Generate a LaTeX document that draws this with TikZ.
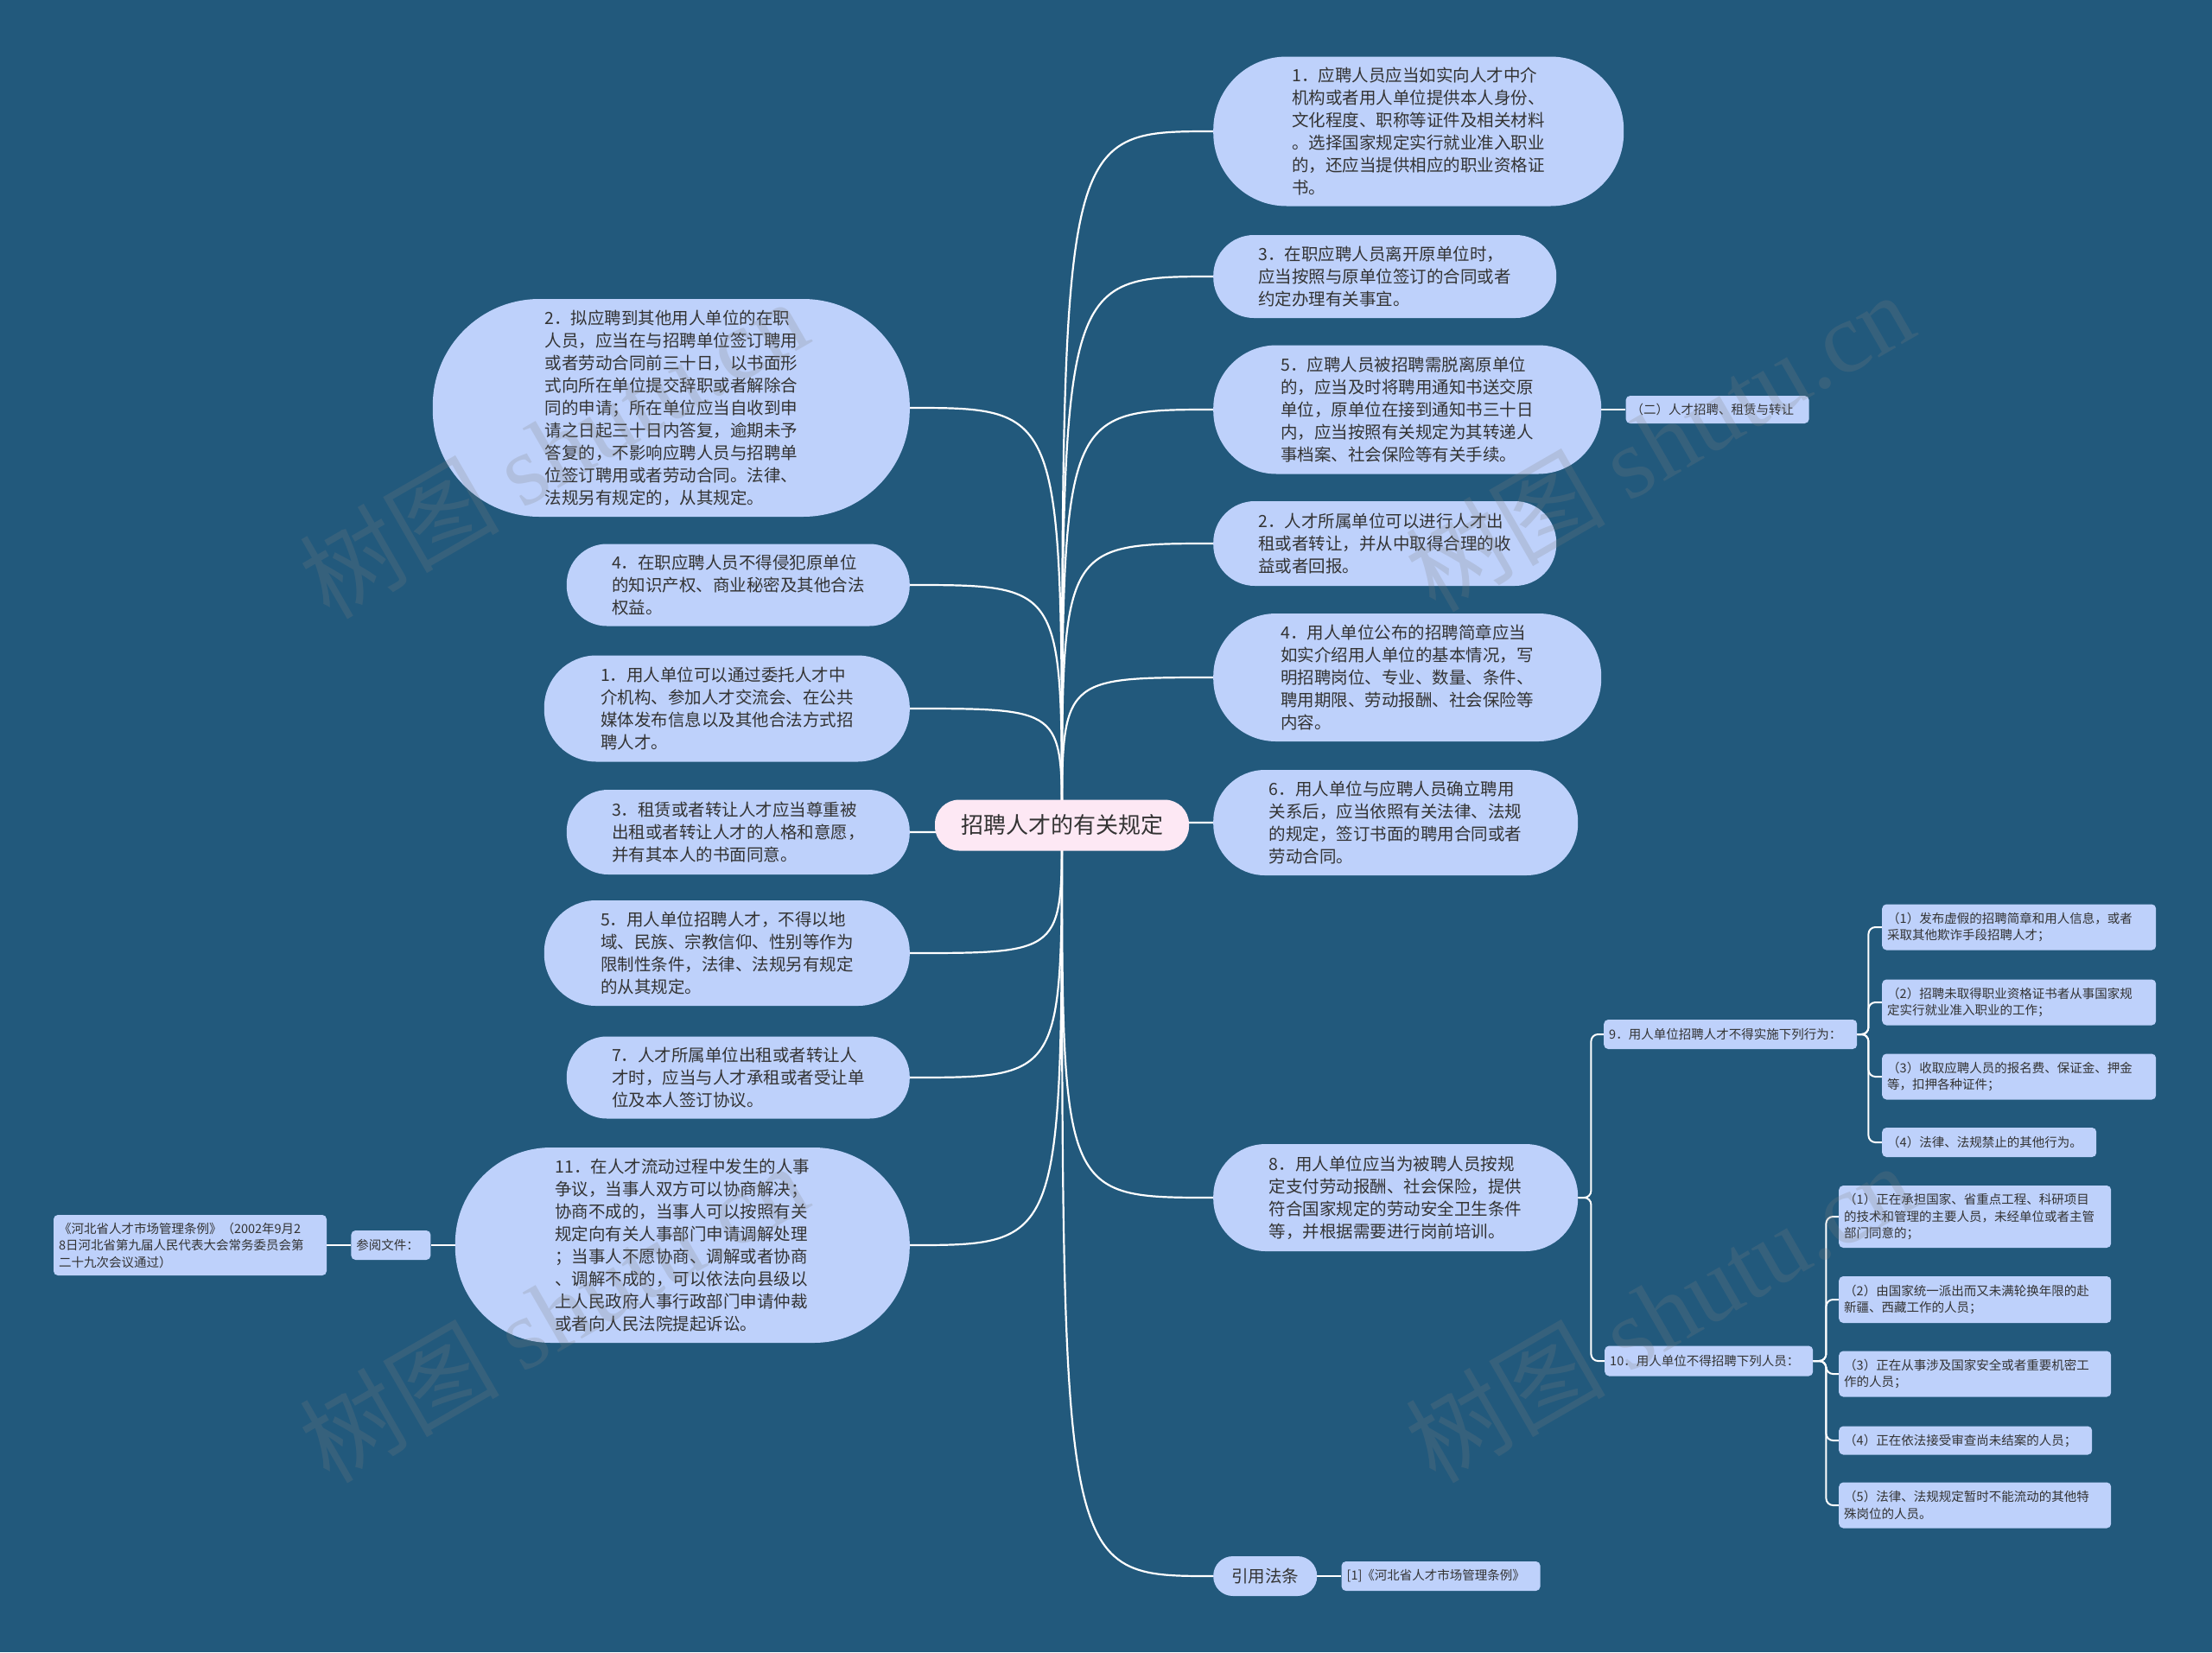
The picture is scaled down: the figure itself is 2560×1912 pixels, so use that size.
\documentclass[tikz,border=0pt]{standalone}
\usepackage{fontspec}
\setmainfont{Noto Sans CJK SC}
\newfontfamily\wmserif{Liberation Serif}
\usepackage{tikz}
\usetikzlibrary{positioning}

\definecolor{bgblue}{HTML}{22597C}
\definecolor{nodefill}{HTML}{BED1FB}
\definecolor{rootfill}{HTML}{FDE8F4}
\definecolor{txt}{HTML}{333333}

\pgfdeclarelayer{background}
\pgfdeclarelayer{edges}
\pgfsetlayers{background,edges,main}

\newcommand\rootfont{\fontsize{26}{30}\selectfont}
\newcommand\nodefont{\fontsize{19.5}{26}\selectfont}
\newcommand\leaffont{\fontsize{14.5}{19.5}\selectfont}

\begin{document}
\begin{tikzpicture}[
    x=1pt, y=-1pt,
    every node/.style={text=txt, inner sep=0pt},
    root/.style={fill=rootfill, font=\rootfont, minimum width=294pt, minimum height=59pt, rounded corners=28pt},
    pill/.style 2 args={fill=nodefill, font=\nodefont, align=left, minimum width=#1pt, minimum height=#2pt, rounded corners=0.49*#2pt},
    leaf/.style 2 args={fill=nodefill, font=\leaffont, align=left, text width=#1pt, minimum height=#2pt, inner xsep=6pt, rounded corners=5pt},
    link/.style={draw=white, line width=2.2pt},
    sublink/.style={draw=white, line width=2pt, rounded corners=8pt},
    wmark/.style={text=gray, opacity=0.22, rotate=30, font=\fontsize{116}{116}\selectfont},
    node distance=28pt
]
\useasboundingbox (0,0) rectangle (2560,1912);

\node[root] (root) at (1229,955) {招聘人才的有关规定};

% right side
\node[pill={475}{173}, anchor=west] (r1) at (1404,152) {1．应聘人员应当如实向人才中介\\机构或者用人单位提供本人身份、\\文化程度、职称等证件及相关材料\\。选择国家规定实行就业准入职业\\的，还应当提供相应的职业资格证\\书。};
\node[pill={397}{96}, anchor=west] (r3) at (1404,320) {3．在职应聘人员离开原单位时，\\应当按照与原单位签订的合同或者\\约定办理有关事宜。};
\node[pill={449}{149}, anchor=west] (r5) at (1404,474) {5．应聘人员被招聘需脱离原单位\\的，应当及时将聘用通知书送交原\\单位，原单位在接到通知书三十日\\内，应当按照有关规定为其转递人\\事档案、社会保险等有关手续。};
\node[pill={397}{98}, anchor=west] (r2) at (1404,629) {2．人才所属单位可以进行人才出\\租或者转让，并从中取得合理的收\\益或者回报。};
\node[pill={449}{148}, anchor=west] (r4) at (1404,784) {4．用人单位公布的招聘简章应当\\如实介绍用人单位的基本情况，写\\明招聘岗位、专业、数量、条件、\\聘用期限、劳动报酬、社会保险等\\内容。};
\node[pill={422}{122}, anchor=west] (r6) at (1404,952) {6．用人单位与应聘人员确立聘用\\关系后，应当依照有关法律、法规\\的规定，签订书面的聘用合同或者\\劳动合同。};
\node[pill={422}{124}, anchor=west] (r8) at (1404,1386) {8．用人单位应当为被聘人员按规\\定支付劳动报酬、社会保险，提供\\符合国家规定的劳动安全卫生条件\\等，并根据需要进行岗前培训。};
\node[pill={120}{46}, anchor=west] (yy) at (1404,1824) {引用法条};

\node[leaf={200}{32}, right=of r5] (er) {（二）人才招聘、租赁与转让};
\node[leaf={218}{34}, right=of yy] (ref1) {[1]《河北省人才市场管理条例》};

\node[leaf={281}{34}, anchor=west] (n9) at (1856,1197) {9．用人单位招聘人才不得实施下列行为：};
\node[leaf={305}{53}, anchor=west] (a1) at (2178,1073) {（1）发布虚假的招聘简章和用人信息，或者\\采取其他欺诈手段招聘人才；};
\node[leaf={305}{53}, anchor=west] (a2) at (2178,1160) {（2）招聘未取得职业资格证书者从事国家规\\定实行就业准入职业的工作；};
\node[leaf={305}{53}, anchor=west] (a3) at (2178,1246) {（3）收取应聘人员的报名费、保证金、押金\\等，扣押各种证件；};
\node[leaf={236}{34}, anchor=west] (a4) at (2178,1322) {（4）法律、法规禁止的其他行为。};

\node[leaf={229}{35}, anchor=west] (n10) at (1857,1575) {10．用人单位不得招聘下列人员：};
\node[leaf={303}{72}, anchor=west] (b1) at (2128,1408) {（1）正在承担国家、省重点工程、科研项目\\的技术和管理的主要人员，未经单位或者主管\\部门同意的；};
\node[leaf={303}{54}, anchor=west] (b2) at (2128,1504) {（2）由国家统一派出而又未满轮换年限的赴\\新疆、西藏工作的人员；};
\node[leaf={303}{53}, anchor=west] (b3) at (2128,1590) {（3）正在从事涉及国家安全或者重要机密工\\作的人员；};
\node[leaf={281}{33}, anchor=west] (b4) at (2128,1667) {（4）正在依法接受审查尚未结案的人员；};
\node[leaf={303}{53}, anchor=west] (b5) at (2128,1742) {（5）法律、法规规定暂时不能流动的其他特\\殊岗位的人员。};

% left side
\node[pill={552}{252}, anchor=east] (l2) at (1053,472) {2．拟应聘到其他用人单位的在职\\人员，应当在与招聘单位签订聘用\\或者劳动合同前三十日，以书面形\\式向所在单位提交辞职或者解除合\\同的申请；所在单位应当自收到申\\请之日起三十日内答复，逾期未予\\答复的，不影响应聘人员与招聘单\\位签订聘用或者劳动合同。法律、\\法规另有规定的，从其规定。};
\node[pill={397}{95}, anchor=east] (l4) at (1053,677) {4．在职应聘人员不得侵犯原单位\\的知识产权、商业秘密及其他合法\\权益。};
\node[pill={423}{123}, anchor=east] (l1) at (1053,820) {1．用人单位可以通过委托人才中\\介机构、参加人才交流会、在公共\\媒体发布信息以及其他合法方式招\\聘人才。};
\node[pill={397}{98}, anchor=east] (l3) at (1053,963) {3．租赁或者转让人才应当尊重被\\出租或者转让人才的人格和意愿，\\并有其本人的书面同意。};
\node[pill={423}{122}, anchor=east] (l5) at (1053,1103) {5．用人单位招聘人才，不得以地\\域、民族、宗教信仰、性别等作为\\限制性条件，法律、法规另有规定\\的从其规定。};
\node[pill={397}{95}, anchor=east] (l7) at (1053,1247) {7．人才所属单位出租或者转让人\\才时，应当与人才承租或者受让单\\位及本人签订协议。};
\node[pill={526}{226}, anchor=east] (l11) at (1053,1441) {11．在人才流动过程中发生的人事\\争议，当事人双方可以协商解决；\\协商不成的，当事人可以按照有关\\规定向有关人事部门申请调解处理\\；当事人不愿协商、调解或者协商\\、调解不成的，可以依法向县级以\\上人民政府人事行政部门申请仲裁\\或者向人民法院提起诉讼。};

\node[leaf={80}{34}, left=of l11] (cy) {参阅文件：};
\node[leaf={304}{70}, left=of cy] (hb) {《河北省人才市场管理条例》（2002年9月2\\8日河北省第九届人民代表大会常务委员会第\\二十九次会议通过）};

\begin{pgfonlayer}{background}
\fill[bgblue] (0,0) rectangle (2560,1912);
\end{pgfonlayer}

\begin{pgfonlayer}{edges}
\draw[link] (root.center) .. controls (root.center |- r1.west) .. (r1.west);
\draw[link] (root.center) .. controls (root.center |- r3.west) .. (r3.west);
\draw[link] (root.center) .. controls (root.center |- r5.west) .. (r5.west);
\draw[link] (root.center) .. controls (root.center |- r2.west) .. (r2.west);
\draw[link] (root.center) .. controls (root.center |- r4.west) .. (r4.west);
\draw[link] (root.center) .. controls (root.center |- r6.west) .. (r6.west);
\draw[link] (root.center) .. controls (root.center |- r8.west) .. (r8.west);
\draw[link] (root.center) .. controls (root.center |- yy.west) .. (yy.west);
\draw[link] (root.center) .. controls (root.center |- l2.east) .. (l2.east);
\draw[link] (root.center) .. controls (root.center |- l4.east) .. (l4.east);
\draw[link] (root.center) .. controls (root.center |- l1.east) .. (l1.east);
\draw[link] (root.center) .. controls (root.center |- l3.east) .. (l3.east);
\draw[link] (root.center) .. controls (root.center |- l5.east) .. (l5.east);
\draw[link] (root.center) .. controls (root.center |- l7.east) .. (l7.east);
\draw[link] (root.center) .. controls (root.center |- l11.east) .. (l11.east);

\draw[sublink] (r5.east) -- (er.west);
\draw[sublink] (yy.east) -- (ref1.west);
\draw[sublink] (l11.west) -- (cy.east);
\draw[sublink] (cy.west) -- (hb.east);
\draw[sublink] (r8.east) -- ++(15,0) |- (n9.west);
\draw[sublink] (r8.east) -- ++(15,0) |- (n10.west);
\draw[sublink] (n9.east) -- ++(13,0) |- (a1.west);
\draw[sublink] (n9.east) -- ++(13,0) |- (a2.west);
\draw[sublink] (n9.east) -- ++(13,0) |- (a3.west);
\draw[sublink] (n9.east) -- ++(13,0) |- (a4.west);
\draw[sublink] (n10.east) -- ++(15,0) |- (b1.west);
\draw[sublink] (n10.east) -- ++(15,0) |- (b2.west);
\draw[sublink] (n10.east) -- ++(15,0) |- (b3.west);
\draw[sublink] (n10.east) -- ++(15,0) |- (b4.west);
\draw[sublink] (n10.east) -- ++(15,0) |- (b5.west);
\end{pgfonlayer}

\node[wmark] (w1) at (640,518) {树图 {\wmserif shutu.cn}};
\node[wmark] (w2) at (1920,510) {树图 {\wmserif shutu.cn}};
\node[wmark] (w3) at (640,1518) {树图 {\wmserif shutu.cn}};
\node[wmark] (w4) at (1920,1518) {树图 {\wmserif shutu.cn}};
\end{tikzpicture}
\end{document}
